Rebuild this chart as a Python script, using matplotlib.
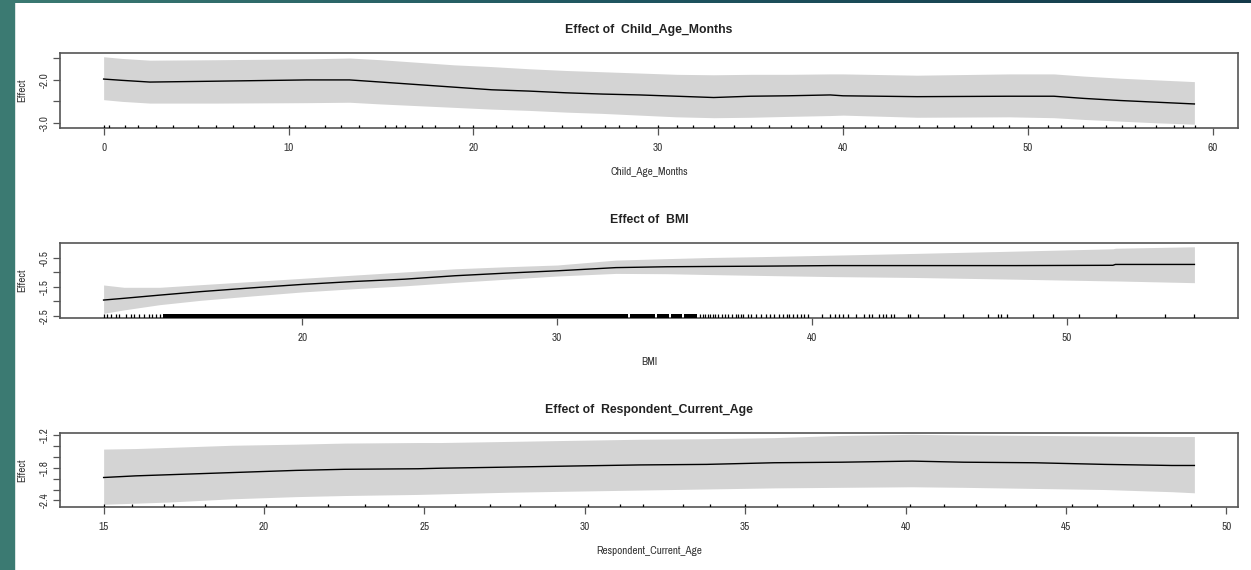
import matplotlib
matplotlib.use("Agg")
import matplotlib.pyplot as plt
import numpy as np
from matplotlib import font_manager
from matplotlib.colors import LinearSegmentedColormap

# ---------------- data ----------------
# Panel 1: Child_Age_Months
age_m = [0, 1, 2.5, 6, 11, 13.3, 15, 17, 19, 21, 23, 25, 27, 29, 31, 33, 35, 37,
         39.3, 40, 44, 49, 51.4, 53, 55, 57, 59]
age_m_fit = [-1.98, -2.01, -2.05, -2.03, -2.00, -2.00, -2.05, -2.11, -2.17, -2.23,
             -2.26, -2.30, -2.33, -2.35, -2.38, -2.41, -2.38, -2.37, -2.35, -2.37,
             -2.39, -2.38, -2.38, -2.43, -2.48, -2.52, -2.56]
age_m_upper = [-1.46, -1.50, -1.54, -1.53, -1.51, -1.49, -1.53, -1.59, -1.65, -1.69,
               -1.74, -1.78, -1.81, -1.84, -1.87, -1.88, -1.87, -1.87, -1.86, -1.86,
               -1.89, -1.86, -1.86, -1.91, -1.96, -2.00, -2.04]
age_m_lower = [-2.46, -2.50, -2.54, -2.54, -2.53, -2.52, -2.56, -2.60, -2.64, -2.68,
               -2.71, -2.75, -2.78, -2.82, -2.86, -2.88, -2.87, -2.85, -2.83, -2.82,
               -2.87, -2.86, -2.88, -2.92, -2.96, -3.00, -3.03]
age_m_rug = [0.0, 0.31, 1.17, 1.84, 2.84, 3.77, 5.09, 6.08, 6.98, 8.16, 9.15, 10.0,
             10.87, 11.95, 12.85, 13.84, 15.2, 15.83, 16.3, 17.2, 17.9, 19.2, 20.0,
             21.2, 22.1, 22.96, 23.8, 24.8, 25.8, 27.1, 27.9, 28.8, 30.0, 31.0, 31.9,
             33.0, 34.1, 35.0, 36.0, 37.2, 38.1, 38.8, 40.0, 41.2, 41.9, 42.8, 44.1,
             45.1, 46.0, 46.9, 48.1, 49.0, 50.0, 51.1, 51.8, 53.0, 54.2, 55.1, 55.8,
             56.9, 57.9, 58.4, 59.05]
age_m_xticks = [0, 10, 20, 30, 40, 50, 60]
age_m_yticks = [-1.5, -2.0, -2.5, -3.0]
age_m_ylabels = ["", "-2.0", "", "-3.0"]

# Panel 2: BMI
bmi = [12.2, 13, 14.4, 16, 18, 20, 22, 24, 26, 28, 30, 32.3, 34.3, 36, 38, 40.8,
       44, 48, 51.8, 51.9, 55]
bmi_fit = [-1.96, -1.90, -1.79, -1.67, -1.54, -1.42, -1.32, -1.24, -1.12, -1.03,
           -0.95, -0.84, -0.81, -0.80, -0.79, -0.77, -0.77, -0.77, -0.76, -0.73, -0.73]
bmi_upper = [-1.44, -1.52, -1.52, -1.43, -1.32, -1.21, -1.10, -0.99, -0.88, -0.81,
             -0.75, -0.58, -0.53, -0.49, -0.46, -0.41, -0.35, -0.27, -0.19, -0.17, -0.12]
bmi_lower = [-2.42, -2.30, -2.12, -1.97, -1.82, -1.68, -1.57, -1.47, -1.35, -1.24,
             -1.13, -1.04, -1.05, -1.08, -1.11, -1.15, -1.18, -1.24, -1.30, -1.30, -1.36]
bmi_rug_dense = [(14.55, 32.78), (32.86, 33.84), (33.9, 34.4), (34.47, 34.9),
                 (34.97, 35.5)]
bmi_rug = [12.2, 12.35, 12.48, 12.67, 12.8, 13.06, 13.26, 13.39, 13.58, 13.78,
           13.97, 14.1, 14.24, 14.43, 35.6, 35.7, 35.8, 35.9, 36.0, 36.1, 36.2,
           36.3, 36.45, 36.6, 36.7, 36.85, 37.0, 37.1,
           37.2, 37.3, 37.5, 37.6, 37.8, 38.0, 38.2, 38.35, 38.5, 38.7, 38.85, 39.0,
           39.1, 39.25, 39.4, 39.55, 39.7, 39.85, 40.4, 40.7, 40.9, 41.05, 41.2,
           41.4, 41.72, 42.04, 42.24, 42.35, 42.64, 42.77, 42.9, 43.1, 43.23, 43.75,
           43.85, 44.14, 45.19, 45.91, 46.89, 47.28, 47.42, 47.64, 48.66, 49.44,
           50.49, 51.93, 53.83, 55.0]
bmi_xticks = [20, 30, 40, 50]
bmi_yticks = [-0.5, -1.0, -1.5, -2.0, -2.5]
bmi_ylabels = ["-0.5", "", "-1.5", "", "-2.5"]

# Panel 3: Respondent_Current_Age
resp = [15, 16, 17, 18, 19, 20, 21, 22.5, 24.8, 25.5, 27.6, 29.6, 31.7, 33.8, 35.9,
        38, 40.2, 41.8, 44, 46.2, 48.3, 49]
resp_fit = [-1.98, -1.95, -1.93, -1.91, -1.89, -1.87, -1.85, -1.83, -1.82, -1.81,
            -1.79, -1.77, -1.75, -1.74, -1.71, -1.70, -1.68, -1.70, -1.71, -1.74,
            -1.76, -1.76]
resp_upper = [-1.46, -1.45, -1.43, -1.41, -1.39, -1.38, -1.37, -1.35, -1.34, -1.34,
              -1.32, -1.30, -1.28, -1.27, -1.25, -1.21, -1.19, -1.20, -1.21, -1.22,
              -1.23, -1.23]
resp_lower = [-2.47, -2.45, -2.43, -2.40, -2.37, -2.35, -2.33, -2.31, -2.29, -2.28,
              -2.25, -2.23, -2.21, -2.19, -2.17, -2.16, -2.15, -2.16, -2.18, -2.20,
              -2.24, -2.26]
resp_rug = [15.0, 15.89, 16.87, 17.15, 18.17, 19.13, 20.07, 21.0, 21.99, 23.14,
            23.86, 24.8, 25.95, 27.04, 27.97, 29.06, 30.1, 31.1, 31.8, 33.05, 33.9,
            35.0, 35.99, 37.1, 37.9, 38.8, 40.15, 41.2, 42.2, 43.1, 44.05, 45.2,
            45.97, 47.1, 47.9, 48.9]
resp_xticks = [15, 20, 25, 30, 35, 40, 45, 50]
resp_yticks = [-1.2, -1.4, -1.6, -1.8, -2.0, -2.2, -2.4]
resp_ylabels = ["-1.2", "", "", "-1.8", "", "", "-2.4"]

titles = ["Effect of  Child_Age_Months", "Effect of  BMI",
          "Effect of  Respondent_Current_Age"]
xlabels = ["Child_Age_Months", "BMI", "Respondent_Current_Age"]

# ---------------- fonts ----------------
avail = {f.name for f in font_manager.fontManager.ttflist}
narrow = [n for n in sorted(avail) if "Narrow" in n or "Condensed" in n]
FAM = "Liberation Sans Narrow" if "Liberation Sans Narrow" in avail else (
    narrow[0] if narrow else "Liberation Sans")
plt.rcParams["font.family"] = [FAM, "Liberation Sans", "DejaVu Sans"]
NARROW = FAM != "Liberation Sans"
LSIZE = 8 if NARROW else 7.3
TITLE_FAM = ["Liberation Sans", "DejaVu Sans"]

W, H = 1251, 570
fig = plt.figure(figsize=(W / 100, H / 100), dpi=100)
fig.patch.set_facecolor("white")

# slide border (teal left strip, gradient top strip)
fig.patches.append(plt.Rectangle((0, 0), 14 / W, 1, transform=fig.transFigure,
                                 color="#3b7a72", zorder=0))
gax = fig.add_axes([0, 1 - 3 / H, 1, 3 / H])
grad = np.linspace(0, 1, 256).reshape(1, -1)
cmap = LinearSegmentedColormap.from_list("g", ["#3b7a72", "#1f5560", "#143a4a"])
gax.imshow(grad, aspect="auto", cmap=cmap)
gax.axis("off")

BAND = "#d4d4d4"
BOX = "#555555"
TXT = "#333333"

panels = [
    (age_m, age_m_fit, age_m_upper, age_m_lower, age_m_rug, [], age_m_xticks,
     age_m_yticks, age_m_ylabels, (-2.36, 61.36), (-3.12, -1.38), 53.3, 128.0),
    (bmi, bmi_fit, bmi_upper, bmi_lower, bmi_rug, bmi_rug_dense, bmi_xticks,
     bmi_yticks, bmi_ylabels, (10.49, 56.71), (-2.57, 0.0), 243.3, 317.7),
    (resp, resp_fit, resp_upper, resp_lower, resp_rug, [], resp_xticks,
     resp_yticks, resp_ylabels, (13.64, 50.36), (-2.52, -1.16), 432.7, 507.0),
]

L, R = 60, 1238
for i, (x, fit, up, lo, rug, dense, xt, yt, yl, xlim, ylim, top, bot) in enumerate(panels):
    ax = fig.add_axes([L / W, 1 - bot / H, (R - L) / W, (bot - top) / H])
    ax.fill_between(x, lo, up, color=BAND, linewidth=0, zorder=1)
    ax.plot(x, fit, color="black", lw=1.0, zorder=3)
    xa = ax.get_xaxis_transform()
    ax.vlines(rug, 0, 0.045, transform=xa, color="black", lw=0.9, zorder=4)
    for a, b in dense:
        ax.axvspan(a, b, ymin=0, ymax=0.045, color="black", lw=0, zorder=4)
    ax.set_xlim(*xlim)
    ax.set_ylim(*ylim)
    ax.set_xticks(xt)
    ax.set_xticklabels([str(v) for v in xt])
    ax.set_yticks(yt)
    ax.set_yticklabels(yl, rotation=90, va="center")
    ax.tick_params(axis="both", direction="out", length=5, width=0.9, color=BOX,
                   labelsize=LSIZE, labelcolor=TXT)
    ax.tick_params(axis="x", pad=6)
    ax.tick_params(axis="y", pad=2)
    for s in ax.spines.values():
        s.set_color(BOX)
        s.set_linewidth(1.2)
    cx = (L + R) / 2 / W
    fig.text(cx, 1 - (top - 23) / H, titles[i], ha="center", va="center",
             fontsize=8.8, fontweight="bold", color="#222222", family=TITLE_FAM)
    fig.text(cx, 1 - (bot + 44) / H, xlabels[i], ha="center", va="center",
             fontsize=LSIZE, color=TXT)
    fig.text(22 / W, 1 - ((top + bot) / 2) / H, "Effect", rotation=90,
             ha="center", va="center", fontsize=LSIZE, color=TXT)

fig.savefig("out.png", dpi=100, facecolor=fig.get_facecolor())
